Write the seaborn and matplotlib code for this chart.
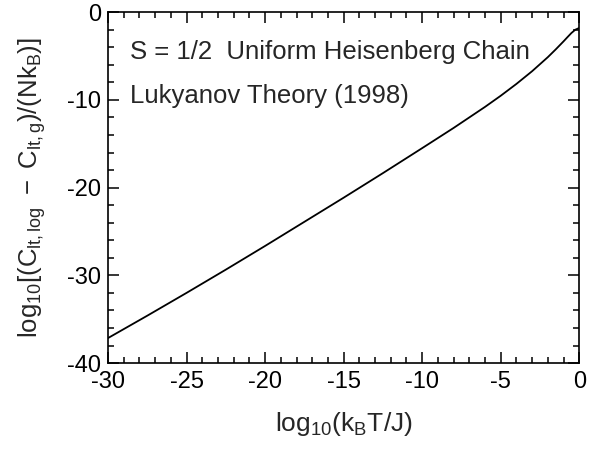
import matplotlib
matplotlib.use("Agg")
import matplotlib.pyplot as plt
from matplotlib.ticker import MultipleLocator
import seaborn as sns
import pandas as pd

# data
log_T = [-30, -27.5, -25, -22.5, -20, -17.5, -15, -12.5, -10, -8, -6, -5, -4, -3, -2.5, -2,
         -1.5, -1, -0.75, -0.5, -0.25, 0]
log_dC = [-37.15, -34.6, -32.0, -29.35, -26.65, -23.9, -21.15, -18.35, -15.5, -13.2, -10.8,
          -9.53, -8.18, -6.73, -5.93, -5.13, -4.25, -3.33, -2.85, -2.38, -2.0, -1.8]
annotations = ["S = 1/2  Uniform Heisenberg Chain", "Lukyanov Theory (1998)"]

sns.set_style("ticks")
plt.rcParams['font.family'] = ['Liberation Sans', 'DejaVu Sans']
plt.rcParams['mathtext.fontset'] = 'custom'
plt.rcParams['mathtext.rm'] = 'Liberation Sans'
plt.rcParams['mathtext.it'] = 'Liberation Sans'
plt.rcParams['mathtext.bf'] = 'Liberation Sans:bold'
plt.rcParams['axes.unicode_minus'] = False

df = pd.DataFrame({"x": log_T, "y": log_dC})

fig = plt.figure(figsize=(5.89, 4.51), dpi=100)
ax = fig.add_axes([0.1834, 0.195, 0.8, 0.778])
sns.lineplot(data=df, x="x", y="y", ax=ax, color="black", linewidth=1.3, estimator=None)

ax.set_xlim(-30, 0)
ax.set_ylim(-40, 0)
ax.xaxis.set_major_locator(MultipleLocator(5))
ax.xaxis.set_minor_locator(MultipleLocator(1))
ax.yaxis.set_major_locator(MultipleLocator(10))
ax.yaxis.set_minor_locator(MultipleLocator(2))
ax.tick_params(which='both', direction='in', top=True, right=True, width=1.1, colors='black', labelsize=17)
ax.tick_params(which='major', length=8)
ax.tick_params(axis='x', which='major', pad=6)
ax.tick_params(axis='y', which='major', pad=5)
ax.tick_params(which='minor', length=4)
for s in ax.spines.values():
    s.set_linewidth(1.2)
    s.set_color('black')

ax.set_xlabel(r'$\mathrm{log_{10}(k_B T/J)}$', fontsize=19, labelpad=12)
ax.set_ylabel(r'$\mathrm{log_{10}[(C_{lt,log}\ -\ C_{lt,g})/(Nk_B)]}$', fontsize=18.5, labelpad=14)

ax.text(-28.6, -5.3, annotations[0], fontsize=18.5, va='baseline', ha='left')
ax.text(-28.6, -10.3, annotations[1], fontsize=18.5, va='baseline', ha='left')

fig.savefig("out.png", dpi=100)
